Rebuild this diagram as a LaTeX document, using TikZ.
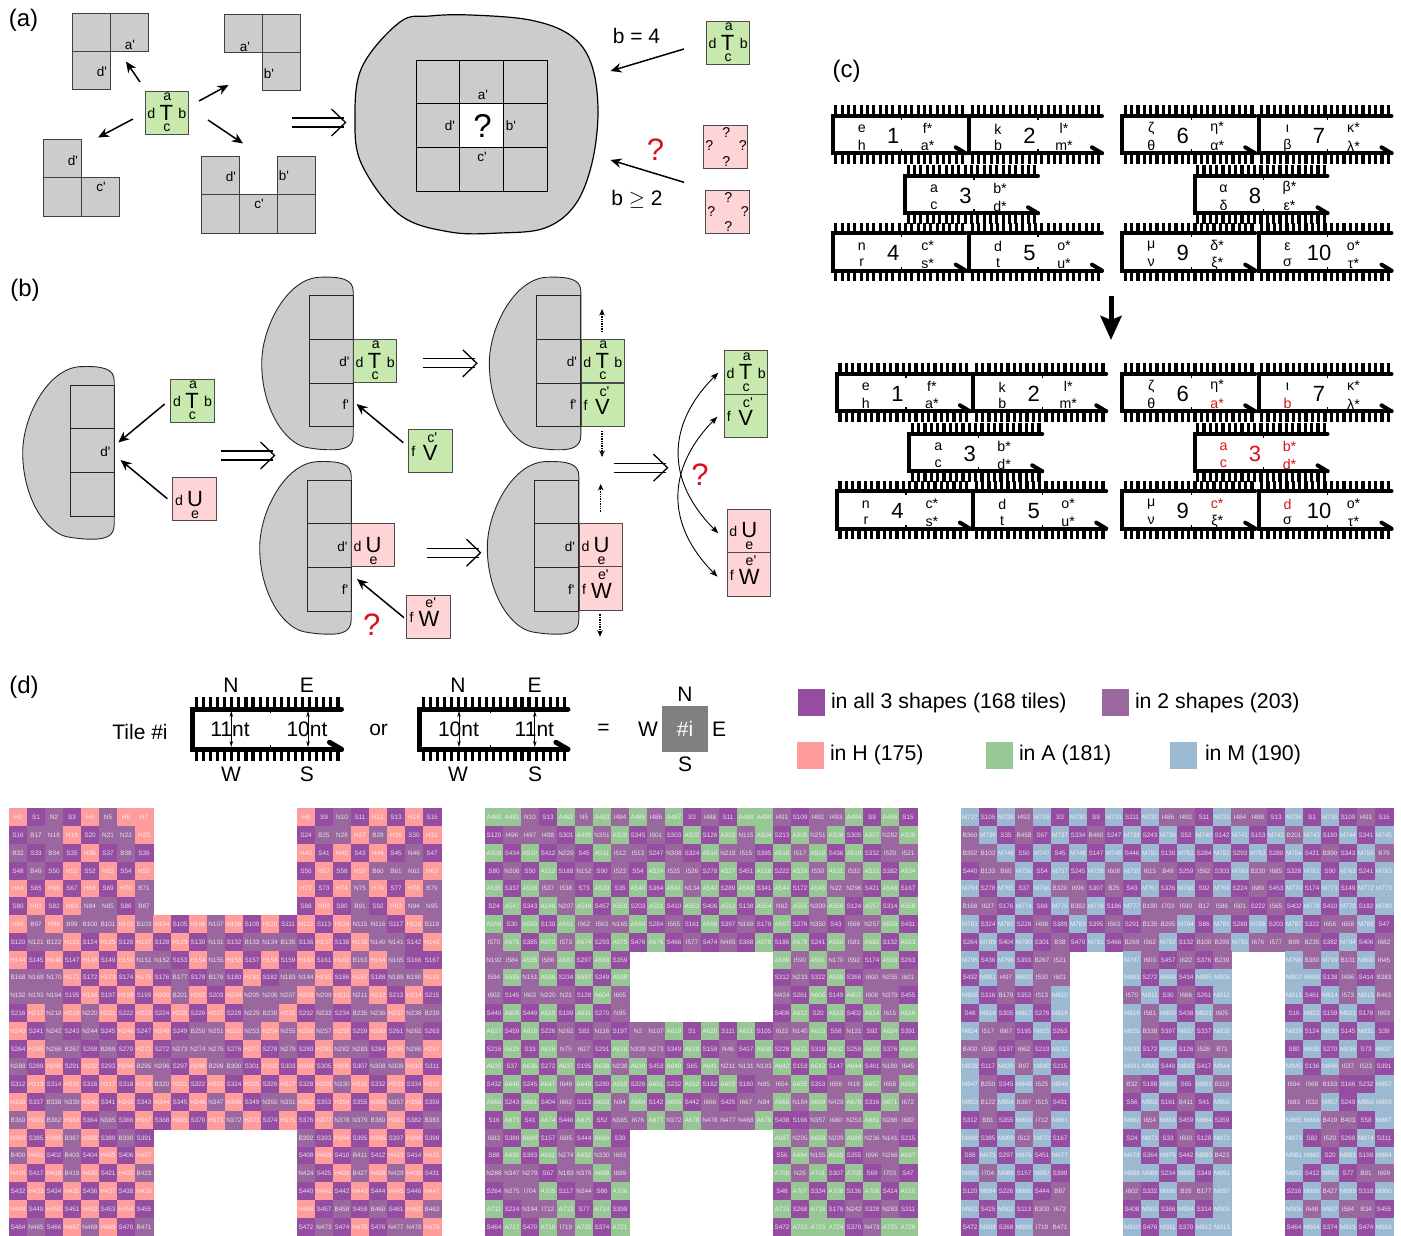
\documentclass[tikz,border=0pt]{standalone}
\usepackage{fontspec}
\setmainfont{Liberation Sans}[Ligatures=TeXOff]
\usetikzlibrary{arrows.meta}
\definecolor{tileH}{HTML}{FF9C9C}
\definecolor{tileS}{HTML}{944DA0}
\definecolor{tileN}{HTML}{9A679F}
\definecolor{tileB}{HTML}{9A679F}
\definecolor{tileI}{HTML}{9A679F}
\definecolor{tileA}{HTML}{97C795}
\definecolor{tileM}{HTML}{9CB9D2}
\definecolor{tgreen}{HTML}{C7E9AE}
\definecolor{tpink}{HTML}{FFD4D6}
\definecolor{blobgray}{HTML}{CCCCCC}
\definecolor{myred}{HTML}{D8101C}
\newcommand\fs[1]{\fontsize{#1}{#1}\selectfont}
\tikzset{
 every node/.style={inner sep=0pt,outer sep=0pt},
 tilesq/.style={draw=black!70,line width=.9pt,minimum width=43.6pt,minimum height=43.6pt,anchor=north west},
 lt/.style={font=\fs{14.2}},
 bigl/.style={font=\fs{22}},
 pl/.style={font=\fs{13.5}},
 panel/.style={font=\fs{24}},
 side/.style={font=\fs{21}},
 redq/.style={font=\fs{31},text=myred},
 legend/.style={font=\fs{21.3},anchor=west},
 arr/.style={line width=1.5pt,-{Stealth[length=11pt,width=9.5pt,inset=3.5pt]}},
 dotarr/.style={line width=1.4pt,densely dotted,-{Stealth[length=6.5pt,width=5.5pt]}},
 dimarr/.style={line width=.7pt,{Stealth[length=6pt,width=3.5pt]}-{Stealth[length=6pt,width=3.5pt]}},
 curvearr/.style={line width=.9pt,{Stealth[length=8pt,width=6pt,inset=2pt]}-{Stealth[length=8pt,width=6pt,inset=2pt]}},
 dbl/.style={line width=1.3pt},
 cellgray/.style={draw=black!75,fill=blobgray,line width=1pt},
 blobst/.style={draw=black!85,fill=blobgray,line width=.9pt},
 dnabox/.style={anchor=north west},
 gridtile/.style={font=\fs{6.4},text=white,text opacity=.8,minimum width=18pt,minimum height=17.8pt,line width=.3pt},
 legsq/.style={minimum width=27pt,minimum height=27pt,anchor=north west},
}
% relative label inside a tile
\newcommand\tl[6]{\path (#1.north west) ++(#2,#3) node[#4] (#1-#5) {#6};}
\newcommand\TTile[3]{\node[tilesq,fill=tgreen] (#1) at (#2,#3) {};
 \tl{#1}{22.4}{5.6}{lt}{a}{a}\tl{#1}{21.4}{21.6}{bigl}{m}{T}\tl{#1}{21.8}{36.6}{lt}{c}{c}\tl{#1}{6.3}{22.8}{lt}{d}{d}\tl{#1}{37.4}{22.8}{lt}{b}{b}}
\newcommand\VTile[3]{\node[tilesq,fill=tgreen] (#1) at (#2,#3) {};
 \tl{#1}{23.5}{8.5}{lt}{c}{c'}\tl{#1}{21.5}{24}{bigl}{m}{V}\tl{#1}{4.6}{22.5}{lt}{f}{f}}
\newcommand\UTile[3]{\node[tilesq,fill=tpink] (#1) at (#2,#3) {};
 \tl{#1}{6.3}{22.7}{lt}{d}{d}\tl{#1}{22.3}{21.4}{bigl}{m}{U}\tl{#1}{22.3}{37}{lt}{e}{e}}
\newcommand\WTile[3]{\node[tilesq,fill=tpink] (#1) at (#2,#3) {};
 \tl{#1}{24}{7.5}{lt}{e}{e'}\tl{#1}{22.3}{24}{bigl}{m}{W}\tl{#1}{4.8}{22.7}{lt}{f}{f}}
\newcommand\QTile[3]{\node[tilesq,fill=tpink] (#1) at (#2,#3) {};
 \tl{#1}{22.7}{7.7}{lt}{t}{?}\tl{#1}{22.7}{36.7}{lt}{b}{?}\tl{#1}{5.7}{21}{lt}{l}{?}\tl{#1}{39.4}{21}{lt}{r}{?}}
% connector between named coordinates
\newcommand\conn[6][arr]{\coordinate (#2s) at (#3,#4);\coordinate (#2e) at (#5,#6);\draw[#1] (#2s) -- (#2e);}
\newcommand\dblarrow[3]{\coordinate (#1) at (#2,#3);
 \draw[dbl] (#1) ++(0,-4.5) -- ++(52,0);
 \draw[dbl] (#1) ++(0,4.5) -- ++(52,0);
 \draw[dbl] (#1) ++(39.5,-13.5) -- ++(14,13.5) -- ++(-14,13.5);}
\newcommand\gsq[2]{\draw[cellgray] (#1,#2) rectangle ++(38,38);}
% gray blob with a column of three cells
\newcommand\blobcol[3]{\begin{scope}[shift={(#2,#3)}]
 \draw[blobst] (57,0) .. controls (80,-1) and (91.5,2) .. (91.5,14) -- (91.5,158) .. controls (91.5,170) and (82,172.5) .. (70,172.5) .. controls (60,172.5) and (52,171.5) .. (44,170) .. controls (22,165) and (0,130) .. (0,86) .. controls (0,50) and (25,2) .. (57,0) -- cycle;
 \foreach \q in {0,1,2} {\draw[cellgray,fill=none,draw=black!85] (47.6,{18.4+43.7*\q}) rectangle ++(44,43.7);}
 \node[pl] (#1-dp) at (82.6,84.6) {d'};
\end{scope}}
\newcommand\fprime[3]{\node[pl] (#1) at (#2,#3) {f'};}
% DNA strand shape
\newcommand\strand[7]{%
 \node[dnabox,minimum width=#4pt,minimum height=#5pt] (#1) at (#2,#3) {};
 \foreach \k in {0,...,20} {
  \draw[line width=\ticklw pt] ({#2+(\k+.5)*#4/21},#3) -- ++(0,-#6);
  \draw[line width=\ticklw pt] ({#2+(\k+.5)*#4/21},{#3+#5}) -- ++(0,#6);}
 \draw[line width=\dnalw pt,line cap=round,line join=miter] (#1.north east) -- (#1.north west) -- (#1.south west) -- (#1.south east);
 \draw[line width=\dnalw pt,line cap=round] (#1.south east) -- ++(-\hkx,-\hky);
 \draw[line width=1.2pt] ({#2+#7},#3) -- ++(0,4);
 \draw[line width=1.2pt] ({#2+#7},{#3+#5}) -- ++(0,-4);}
\newcommand\dnatile[8]{\def\dnalw{4}\def\ticklw{3.2}\def\hkx{10}\def\hky{6}%
 \strand{#1}{#2}{#3}{133}{37.3}{10.7}{69}
 \tl{#1}{29}{13}{lt}{tl}{#4}\tl{#1}{29}{29.5}{lt}{bl}{#5}\tl{#1}{60.5}{19.7}{bigl}{n}{#6}\tl{#1}{95}{12}{lt}{tr}{#7}\tl{#1}{95}{30}{lt}{br}{#8}}
\newcommand\rd[1]{\textcolor{myred}{#1}}
% grid tiles
\def\tilecell#1#2\relax{\node[gridtile,fill=tile#1,draw=tile#1] (g\gx-\gy-\gs-\gc) at ({\gx+18*(\gs+\gc)+9},{808.6+17.8*\gy+8.9}) {#1#2};}
\newcommand\tilerow[4]{\def\gx{#1}\def\gs{#2}\def\gy{#3}\foreach \tt [count=\gc from 0] in {#4} {\expandafter\tilecell\tt\relax}}
\begin{document}
\begin{tikzpicture}[x=1pt,y=-1pt]
\useasboundingbox (0,0) rectangle (1401,1236);
% ---------- (a)
\node[panel] (pa) at (23.5,20) {(a)};
\gsq{72}{14}\gsq{110}{14}\gsq{72}{52}
\node[pl] (a1a) at (130,45) {a'};\node[pl] (a1d) at (102,72) {d'};
\gsq{224}{15}\gsq{262}{15}\gsq{262}{53}
\node[pl] (a2a) at (245,47) {a'};\node[pl] (a2b) at (269,74) {b'};
\gsq{43}{140}\gsq{43}{178}\gsq{81}{178}
\node[pl] (a3d) at (73,161) {d'};\node[pl] (a3c) at (101,187) {c'};
\gsq{201}{157}\gsq{277}{157}\gsq{201}{195}\gsq{239}{195}\gsq{277}{195}
\node[pl] (a4d) at (231,177) {d'};\node[pl] (a4b) at (284,176) {b'};\node[pl] (a4c) at (259,204) {c'};
\TTile{ta}{145}{91}
\conn{aa}{140}{82}{126}{61.5}
\conn{ab}{199}{101}{228.5}{85}
\conn{ac}{133}{119}{98}{137.5}
\conn{ad}{208}{120}{243}{143.5}
\dblarrow{da}{292}{122.5}
\draw[blobst,draw=black,line width=1.2pt] plot[smooth cycle,tension=.6] coordinates {(400,22)(362,67)(355,120)(362,165)(400,215)(450,232)(500,233)(545,228)(575,205)(592,163)(598,110)(591,63)(570,35)(530,20)(470,15)(430,16)};
\foreach \i in {0,1,2} \foreach \j in {0,1,2} {\draw[draw=black,line width=.9pt] ({416+43.7*\i},{60+43.7*\j}) rectangle ++(43.7,43.7);}
\fill[white] (459.7,103.7) rectangle ++(43.7,43.7);
\draw[line width=.9pt] (459.7,103.7) rectangle ++(43.7,43.7);
\node[font=\fs{33}] (aq) at (482.5,125.5) {?};
\node[pl] (aa1) at (483,95) {a'};\node[pl] (ad1) at (450,126) {d'};\node[pl] (ab1) at (511,126) {b'};\node[pl] (ac1) at (482,157) {c'};
\node[side] (b4) at (636.5,36) {b = 4};
\node[side] (b2) at (637,199) {b $\geq$ 2};
\node[redq] (aqr) at (655.5,150) {?};
\TTile{tb}{706.3}{21}
\QTile{q1}{703.5}{125}
\QTile{q2}{705.5}{190.3}
\conn{ae}{684}{49}{610.5}{71}
\conn{af}{684}{182.3}{610.5}{160}
% ---------- (b)
\node[panel] (pb) at (25,290) {(b)};
\blobcol{bl}{22.7}{366.7}
\TTile{tc}{170.7}{379}
\UTile{ua}{172.7}{477.3}
\conn{ba}{164.7}{404}{118.3}{442.5}
\conn{bb}{167.3}{498.7}{120.5}{460}
\dblarrow{db}{221}{455.5}
\blobcol{b2}{261.7}{277.3}\fprime{b2f}{345.7}{405}
\TTile{td}{353.3}{339.3}
\VTile{va}{408.7}{429.3}
\conn{bc}{403.3}{442.7}{356.5}{404}
\blobcol{b3}{259.7}{461.7}\fprime{b3f}{345}{589.3}
\UTile{ub}{351.3}{523.3}
\WTile{wa}{406.7}{595}
\conn{bd}{404}{617.7}{357}{579}
\node[redq] (bq1) at (371.7,625) {?};
\dblarrow{dc}{423.3}{363.3}
\dblarrow{dd}{427}{552.7}
\blobcol{b4}{489.3}{277.3}\fprime{b4f}{573.3}{405}
\TTile{te}{581}{339.3}
\VTile{vb}{581}{383}
\blobcol{b5}{487.3}{461.7}\fprime{b5f}{571.3}{589.3}
\UTile{uc}{579.3}{523.3}
\WTile{wb}{579.3}{566.9}
\conn[dotarr]{be}{602}{332}{602}{309}
\conn[dotarr]{bf}{602}{431}{602}{457}
\conn[dotarr]{bg}{600.7}{511.7}{600.7}{484}
\conn[dotarr]{bh}{600}{614.3}{600}{636.7}
\dblarrow{de}{614}{467.7}
\TTile{tf}{724.3}{350.7}
\VTile{vc}{724.3}{394.3}
\UTile{ud}{727}{509}
\WTile{wc}{727}{552.7}
\coordinate (c1s) at (718.3,372.7);\coordinate (c1e) at (718.3,533.3);
\coordinate (c2s) at (717.3,416.7);\coordinate (c2e) at (717.5,576.7);
\draw[curvearr] (c1s) .. controls (666,425) and (666,481) .. (c1e);
\draw[curvearr] (c2s) .. controls (666,469) and (666,525) .. (c2e);
\node[redq] (bq2) at (700,475) {?};
% ---------- (c)
\node[panel] (pc) at (846.5,71) {(c)};
\dnatile{d1}{832.7}{116}{e}{h}{1}{f*}{a*}
\dnatile{d2}{969}{116}{k}{b}{2}{l*}{m*}
\dnatile{d3}{905}{176}{a}{c}{3}{b*}{d*}
\dnatile{d4}{832.7}{233.3}{n}{r}{4}{c*}{s*}
\dnatile{d5}{969}{233.3}{d}{t}{5}{o*}{u*}
\dnatile{d6}{1122.2}{116}{ζ}{θ}{6}{η*}{α*}
\dnatile{d7}{1258.5}{116}{ι}{β}{7}{κ*}{λ*}
\dnatile{d8}{1194.5}{176}{α}{δ}{8}{β*}{ε*}
\dnatile{d9}{1122.2}{233.3}{μ}{ν}{9}{δ*}{ξ*}
\dnatile{d10}{1258.5}{233.3}{ε}{σ}{10}{ο*}{τ*}
\coordinate (cas) at (1111,296);\coordinate (cae) at (1111,340);
\draw[line width=5pt,-{Stealth[length=24pt,width=21pt,inset=4pt]}] (cas) -- (cae);
\dnatile{e1}{836.9}{374}{e}{h}{1}{f*}{a*}
\dnatile{e2}{973.2}{374}{k}{b}{2}{l*}{m*}
\dnatile{e3}{909.2}{434}{a}{c}{3}{b*}{d*}
\dnatile{e4}{836.9}{491.3}{n}{r}{4}{c*}{s*}
\dnatile{e5}{973.2}{491.3}{d}{t}{5}{o*}{u*}
\dnatile{e6}{1122.2}{374}{ζ}{θ}{6}{η*}{\rd{a*}}
\dnatile{e7}{1258.5}{374}{ι}{\rd{b}}{7}{κ*}{λ*}
\dnatile{e8}{1194.5}{434}{\rd{a}}{\rd{c}}{\rd{3}}{\rd{b*}}{\rd{d*}}
\dnatile{e9}{1122.2}{491.3}{μ}{ν}{9}{\rd{c*}}{ξ*}
\dnatile{e10}{1258.5}{491.3}{\rd{d}}{σ}{10}{o*}{τ*}
% ---------- (d)
\node[panel] (pd) at (24,687) {(d)};
\node[side] (tl1) at (140,732) {Tile \#i};
\def\dnalw{5}\def\ticklw{3.2}\def\hkx{12}\def\hky{7}
\strand{s1}{192.9}{709}{148.6}{40.3}{12}{77.5}
\strand{s2}{419.6}{709}{148.3}{40.3}{12}{70.6}
\coordinate (m1t) at (231.3,711);\coordinate (m1b) at (231.3,747);
\coordinate (m2t) at (308,711);\coordinate (m2b) at (308,747);
\coordinate (m3t) at (459,711);\coordinate (m3b) at (459,747);
\coordinate (m4t) at (534.8,711);\coordinate (m4b) at (534.8,747);
\draw[dimarr] (m1t) -- (m1b);\draw[dimarr] (m2t) -- (m2b);\draw[dimarr] (m3t) -- (m3b);\draw[dimarr] (m4t) -- (m4b);
\node[side] (nt1) at (230,729) {11nt};\node[side] (nt2) at (307,729) {10nt};
\node[side] (nt3) at (458.5,729) {10nt};\node[side] (nt4) at (534.4,729) {11nt};
\node[side] (n1) at (231,685) {N};\node[side] (e1) at (307,685) {E};
\node[side] (w1) at (231,774) {W};\node[side] (s1l) at (307,774) {S};
\node[side] (n2) at (458,685) {N};\node[side] (e2l) at (534.6,685) {E};
\node[side] (w2) at (458,774) {W};\node[side] (s2l) at (535,774) {S};
\node[side] (or) at (378.6,730) {or};
\node[side] (eq) at (603.6,729) {=};
\node[minimum width=46pt,minimum height=46pt,fill=black!50,anchor=north west,font=\fs{21},text=white] (sq) at (662,705.5) {\#i};
\node[side] (cn) at (685,694) {N};\node[side] (cw) at (648,729) {W};\node[side] (ce) at (719,729) {E};\node[side] (cs) at (685,764) {S};
\node[legsq,fill=tileS] (l1) at (798,689) {};\node[legend] (l1t) at (831,702.5) {in all 3 shapes (168 tiles)};
\node[legsq,fill=tileN] (l2) at (1102,689) {};\node[legend] (l2t) at (1135,702.5) {in 2 shapes (203)};
\node[legsq,fill=tileH] (l3) at (797,741.5) {};\node[legend] (l3t) at (830,755) {in H (175)};
\node[legsq,fill=tileA] (l4) at (986,741.5) {};\node[legend] (l4t) at (1019,755) {in A (181)};
\node[legsq,fill=tileM] (l5) at (1170,741.5) {};\node[legend] (l5t) at (1205,755) {in M (190)};
% ---------- H grid
\tilerow{9}{0}{0}{H0,S1,N2,S3,H4,N5,H6,H7}\tilerow{9}{16}{0}{H8,S9,N10,S11,H12,S13,H14,S15}
\tilerow{9}{0}{1}{S16,B17,N18,H19,S20,N21,N22,H23}\tilerow{9}{16}{1}{S24,B25,N26,H27,B28,H29,S30,H31}
\tilerow{9}{0}{2}{B32,S33,B34,S35,H36,S37,B38,S39}\tilerow{9}{16}{2}{H40,S41,H42,S43,H44,S45,N46,S47}
\tilerow{9}{0}{3}{S48,B49,S50,H51,S52,H53,S54,H55}\tilerow{9}{16}{3}{S56,H57,S58,H59,B60,B61,N62,H63}
\tilerow{9}{0}{4}{H64,S65,H66,S67,H68,S69,H70,B71}\tilerow{9}{16}{4}{H72,S73,H74,N75,H76,S77,H78,B79}
\tilerow{9}{0}{5}{S80,H81,S82,H83,N84,N85,S86,B87}\tilerow{9}{16}{5}{S88,H89,S90,B91,S92,H93,N94,N95}
\tilerow{9}{0}{6}{H96,B97,H98,B99,B100,B101,H102,B103,H104,S105,H106,N107,H108,S109,H110,S111,H112,S113,H114,N115,N116,S117,H118,B119}
\tilerow{9}{0}{7}{S120,N121,B122,H123,S124,H125,S126,H127,S128,H129,S130,N131,S132,B133,N134,B135,S136,H137,S138,H139,N140,N141,S142,H143}
\tilerow{9}{0}{8}{H144,S145,H146,S147,H148,S149,H150,N151,N152,S153,H154,N155,H156,S157,H158,S159,H160,S161,H162,B163,H164,N165,S166,S167}
\tilerow{9}{0}{9}{B168,N169,N170,H171,S172,H173,S174,H175,S176,B177,S178,B179,S180,H181,S182,N183,N184,H185,S186,H187,S188,N189,B190,H191}
\tilerow{9}{0}{10}{N192,N193,N194,S195,H196,S197,H198,S199,H200,B201,H202,S203,H204,N205,N206,N207,H208,N209,H210,N211,H212,S213,H214,S215}
\tilerow{9}{0}{11}{S216,H217,N218,H219,N220,H221,S222,H223,S224,H225,S226,H227,S228,N229,B230,H231,S232,N233,S234,B235,N236,H237,N238,B239}
\tilerow{9}{0}{12}{H240,S241,N242,S243,N244,S245,H246,S247,H248,S249,B250,N251,H252,N253,H254,N255,H256,N257,H258,S259,H260,S261,N262,S263}
\tilerow{9}{0}{13}{S264,H265,N266,B267,S268,B269,S270,H271,S272,N273,N274,N275,S276,H277,S278,N279,S280,H281,N282,N283,S284,H285,N286,H287}
\tilerow{9}{0}{14}{N288,S289,H290,S291,H292,S293,H294,B295,N296,S297,H298,B299,B300,S301,H302,S303,H304,S305,H306,S307,N308,N309,H310,S311}
\tilerow{9}{0}{15}{S312,H313,S314,H315,S316,H317,S318,H319,B320,H321,S322,H323,S324,H325,S326,H327,S328,H329,N330,H331,S332,H333,S334,H335}
\tilerow{9}{0}{16}{H336,S337,B338,N339,H340,S341,H342,S343,H344,S345,H346,N347,H348,S349,N350,N351,H352,S353,H354,S355,H356,N357,H358,S359}
\tilerow{9}{0}{17}{B360,H361,B362,H363,S364,N365,S366,H367,S368,H369,S370,H371,N372,H373,S374,H375,S376,H377,N378,N379,B380,H381,S382,B383}
\tilerow{9}{0}{18}{H384,S385,H386,B387,H388,S389,B390,S391}\tilerow{9}{16}{18}{B392,S393,H394,S395,H396,S397,H398,S399}
\tilerow{9}{0}{19}{B400,H401,S402,B403,S404,H405,S406,H407}\tilerow{9}{16}{19}{S408,H409,S410,B411,S412,H413,S414,H415}
\tilerow{9}{0}{20}{H416,S417,H418,B419,H420,S421,H422,B423}\tilerow{9}{16}{20}{N424,S425,H426,B427,H428,N429,H430,S431}
\tilerow{9}{0}{21}{S432,H433,S434,H435,S436,H437,S438,H439}\tilerow{9}{16}{21}{S440,H441,S442,H443,S444,H445,S446,H447}
\tilerow{9}{0}{22}{H448,S449,H450,S451,H452,S453,H454,S455}\tilerow{9}{16}{22}{H456,S457,B458,S459,B460,S461,H462,B463}
\tilerow{9}{0}{23}{S464,N465,S466,H467,N468,H469,S470,B471}\tilerow{9}{16}{23}{S472,N473,S474,H475,S476,N477,N478,H479}
% ---------- A grid
\tilerow{485}{0}{0}{A480,A481,N10,S13,A482,N5,A483,I484,A485,I486,A487,S3,I488,S11,A489,A490,I491,S109,I492,I493,A494,S9,A495,S15}
\tilerow{485}{0}{1}{S120,I496,I497,I498,S301,A499,N351,A500,S345,I501,S303,A502,S126,A503,N115,A504,S213,A505,N251,A506,S305,A507,N282,A508}
\tilerow{485}{0}{2}{A509,S434,A510,S412,N229,S45,A511,I512,I513,S247,N308,S324,A514,N218,I515,S395,A516,I517,A518,S436,A519,S332,I520,I521}
\tilerow{485}{0}{3}{S80,N206,S50,A522,S188,N152,S90,I523,S54,A524,I525,I526,S278,A527,S451,A528,S222,A529,I530,A531,I532,A533,S382,A534}
\tilerow{485}{0}{4}{A535,S337,A536,I537,I538,S73,A539,S35,A540,S364,A541,N134,A542,S289,A543,S341,A544,S172,A545,N22,N296,S421,A546,S167}
\tilerow{485}{0}{5}{S24,A547,S343,A548,N207,A549,S457,A550,S203,A551,S410,A552,S406,A553,S138,A554,N62,A555,N309,A556,S124,A557,S314,A558}
\tilerow{485}{0}{6}{A559,S30,A560,S130,A561,I562,I563,N165,A564,S284,I565,S161,A566,S397,N169,S178,A567,S276,N350,S43,I568,N257,A569,S431}
\tilerow{485}{0}{7}{I570,A571,S385,A572,I573,A574,S293,A575,S476,A576,S466,I577,S474,N465,S368,A578,S186,A579,S241,A580,I581,A582,S132,A583}
\tilerow{485}{0}{8}{N192,I584,A585,I586,A587,S297,A588,S359}\tilerow{485}{16}{8}{A589,I590,A591,N170,I592,S174,A593,S263}
\tilerow{485}{0}{9}{I594,A595,N151,A596,S234,A597,S249,A598}\tilerow{485}{16}{9}{S312,N233,S322,A599,S366,I600,N255,I601}
\tilerow{485}{0}{10}{I602,S145,I603,N220,N21,S128,A604,I605}\tilerow{485}{16}{10}{N424,S261,A606,S149,A607,I608,N379,S455}
\tilerow{485}{0}{11}{S440,A609,S449,A610,S199,A611,S270,N95}\tilerow{485}{16}{11}{S408,A612,S20,A613,S402,A614,I615,A616}
\tilerow{485}{0}{12}{A617,S459,A618,S226,N262,S82,N116,S197,N2,N107,A619,S1,A620,S111,A621,S105,I622,N140,A623,S58,N121,S92,A624,S391}
\tilerow{485}{0}{13}{S216,A625,S33,A626,N75,I627,S291,A628,N339,N273,S349,A629,S159,N46,S417,A630,S228,A631,S318,A632,S259,A633,S376,A634}
\tilerow{485}{0}{14}{A635,S37,A636,S272,A637,S195,A638,N238,A639,S453,A640,S65,A641,N211,N131,N193,A642,S153,A643,S147,A644,S461,N189,I645}
\tilerow{485}{0}{15}{S432,A646,S245,A647,I648,A649,S280,A650,S326,A651,S232,A652,S182,A653,S180,N85,I654,A655,S353,I656,N18,A657,I658,A659}
\tilerow{485}{0}{16}{A660,S243,A661,S404,I662,S113,A663,N94,A664,S142,A665,S442,I666,S425,I667,N84,A668,N184,A669,N429,A670,S316,A671,I672}
\tilerow{485}{0}{17}{S16,A673,S41,A674,S446,A675,S52,N365,I676,A677,N372,A678,N478,N477,N468,A679,S438,S166,N357,I680,N253,A681,N286,I682}
\tilerow{485}{0}{18}{I683,S389,A684,S157,I685,S444,A686,S39}\tilerow{485}{16}{18}{A687,N205,A688,N209,A689,N236,N141,S215}
\tilerow{485}{0}{19}{S88,A690,S393,A691,N274,A692,N330,I693}\tilerow{485}{16}{19}{S56,A694,N155,A695,S355,I696,N266,A697}
\tilerow{485}{0}{20}{N288,N347,N279,S67,N183,N378,A698,I699}\tilerow{485}{16}{20}{A700,N26,A701,S307,A702,S69,I703,S47}
\tilerow{485}{0}{21}{S264,N275,I704,A705,S117,N244,S86,A706}\tilerow{485}{16}{21}{S48,A707,S334,A708,S136,A709,S414,A710}
\tilerow{485}{0}{22}{A711,S224,N194,I712,A713,S77,A714,S399}\tilerow{485}{16}{22}{A715,S268,A716,S176,N242,S328,N283,S311}
\tilerow{485}{0}{23}{S464,A717,S470,A718,I719,A720,S374,A721}\tilerow{485}{16}{23}{S472,A722,A723,A724,S370,N473,A725,A726}
% ---------- M grid
\tilerow{961}{0}{0}{M727,S105,M728,I493,M729,S3,M730,S9,M731,S111,M732,I486,I492,S11,M733,I484,I488,S13,M734,S1,M735,S109,I491,S15}
\tilerow{961}{0}{1}{B360,M736,S35,B458,S67,M737,S334,B460,S247,M738,S243,M739,S52,M740,S142,M741,S153,M742,B201,M743,S180,M744,S341,M745}
\tilerow{961}{0}{2}{B392,B103,M746,S50,M747,S45,M748,S147,M749,S446,M750,S130,M751,S284,M752,S293,M753,S280,M754,S421,B390,S343,M755,B79}
\tilerow{961}{0}{3}{S440,B133,B60,M756,S54,M757,S245,M758,I608,M759,I615,B49,S259,I592,S303,M760,B230,I685,S328,M761,S90,M762,S241,M763}
\tilerow{961}{0}{4}{M764,S278,M765,S37,M766,B320,I696,S307,B25,S43,M767,S326,M768,S92,M769,S224,I680,S453,M770,S174,M771,S149,M772,M773}
\tilerow{961}{0}{5}{B168,I627,S176,M774,S69,M775,B362,M776,S186,M777,B190,I703,I590,B17,I586,I501,S222,I565,S402,M778,S410,M779,S182,M780}
\tilerow{961}{0}{6}{M781,S324,M782,S228,I498,S389,M783,S395,I563,S291,B135,B295,M784,S86,M785,S289,M786,S203,M787,S322,I656,I658,M788,S47}
\tilerow{961}{0}{7}{S264,M789,S404,M790,S301,B38,S470,M791,S466,B269,I562,M792,S132,B100,B299,M793,I676,I577,B99,B235,S382,M794,S406,I682}
\tilerow{961}{0}{8}{M795,S436,M796,S393,B267,I521}\tilerow{961}{9}{8}{M797,I603,S457,I622,S376,B239}\tilerow{961}{18}{8}{M798,B380,M799,B101,M800,I645}
\tilerow{961}{0}{9}{S432,M801,I497,M802,I530,I601}\tilerow{961}{9}{9}{M803,S272,M804,S434,M805,M806}\tilerow{961}{18}{9}{M807,M808,S138,I496,S414,B383}
\tilerow{961}{0}{10}{M809,S316,B179,S353,I513,M810}\tilerow{961}{9}{10}{I570,M811,S30,I666,S261,M812}\tilerow{961}{18}{10}{M813,S461,M814,I573,M815,B463}
\tilerow{961}{0}{11}{S48,M816,S305,M817,S276,M818}\tilerow{961}{9}{11}{M819,I581,M820,S438,M821,I605}\tilerow{961}{18}{11}{S16,M822,S159,M823,S178,I693}
\tilerow{961}{0}{12}{M824,I517,I667,S195,M825,S263}\tilerow{961}{9}{12}{M826,B338,S397,M827,S337,M828}\tilerow{961}{18}{12}{M829,S124,M830,S145,M831,S39}
\tilerow{961}{0}{13}{B400,I538,S197,I662,S213,M832}\tilerow{961}{9}{13}{M833,S172,M834,S126,I526,B71}\tilerow{961}{18}{13}{S80,M835,S270,M836,S73,M837}
\tilerow{961}{0}{14}{M838,S117,M839,B97,M840,S215}\tilerow{961}{9}{14}{M841,M842,S449,M843,S417,M844}\tilerow{961}{18}{14}{M845,S136,M846,I537,I523,S391}
\tilerow{961}{0}{15}{M847,B250,S345,M848,I525,M849}\tilerow{961}{9}{15}{B32,S188,M850,S65,M851,B119}\tilerow{961}{18}{15}{I594,I568,B163,S166,S232,M852}
\tilerow{961}{0}{16}{M853,B122,M854,B387,I515,S431}\tilerow{961}{9}{16}{S56,M855,S161,B411,S41,M856}\tilerow{961}{18}{16}{I683,I532,M857,S249,M858,M859}
\tilerow{961}{0}{17}{S312,B81,S355,M860,I712,M861}\tilerow{961}{9}{17}{M862,I654,M863,S459,M864,S359}\tilerow{961}{18}{17}{M865,M866,B419,B403,S58,M867}
\tilerow{961}{0}{18}{M868,S385,M869,I512,M870,S167}\tilerow{961}{9}{18}{S24,M871,S33,I600,S128,M872}\tilerow{961}{18}{18}{M873,S82,I520,S268,M874,S311}
\tilerow{961}{0}{19}{S88,M875,S297,M876,S451,M877}\tilerow{961}{9}{19}{M878,S364,M879,S442,M880,B423}\tilerow{961}{18}{19}{M881,M882,S20,M883,S199,M884}
\tilerow{961}{0}{20}{M885,I704,M886,S157,M887,S399}\tilerow{961}{9}{20}{M888,M889,S234,M890,S349,M891}\tilerow{961}{18}{20}{M892,S412,M893,S77,B91,I699}
\tilerow{961}{0}{21}{S120,M894,S226,M895,S444,B87}\tilerow{961}{9}{21}{I602,S332,M896,B28,B177,M897}\tilerow{961}{18}{21}{S216,M898,B427,M899,S318,M900}
\tilerow{961}{0}{22}{M901,S425,M902,S113,B300,I672}\tilerow{961}{9}{22}{S408,M903,S366,M904,S314,M905}\tilerow{961}{18}{22}{M906,I648,M907,I584,B34,S455}
\tilerow{961}{0}{23}{S472,M908,S368,M909,I719,B471}\tilerow{961}{9}{23}{M910,S476,M911,S370,M912,M913}\tilerow{961}{18}{23}{S464,M914,S374,M915,S474,M916}
\end{tikzpicture}
\end{document}
